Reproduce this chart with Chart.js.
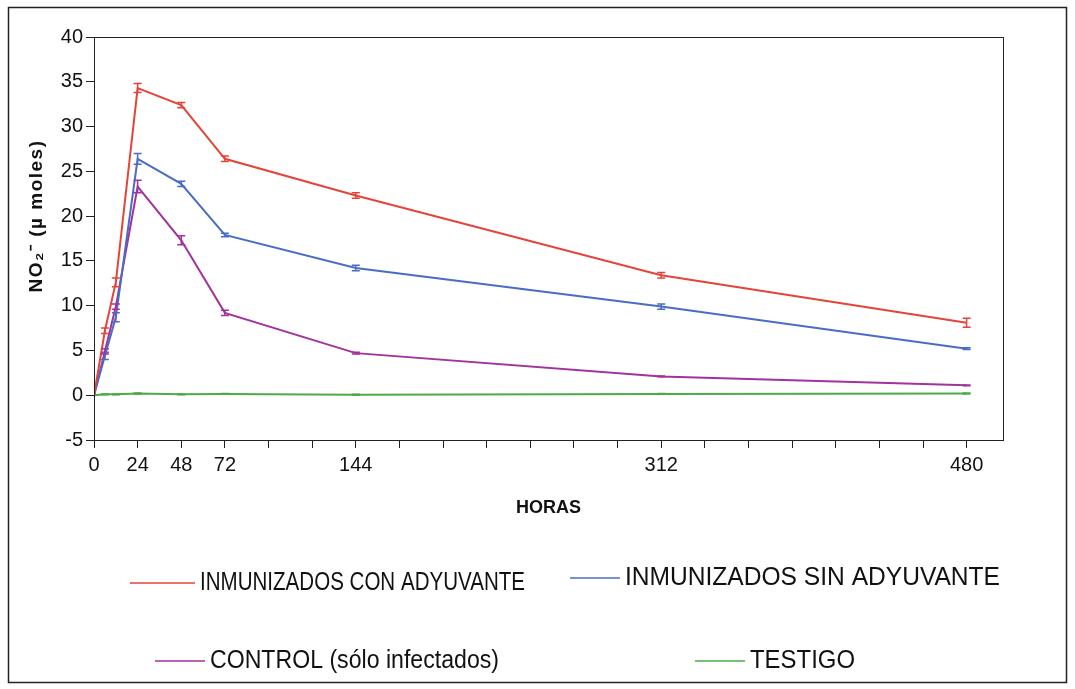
<!DOCTYPE html>
<html lang="es">
<head>
  <meta charset="UTF-8" />
  <title>NO2 - horas</title>
  <script src="https://cdn.jsdelivr.net/npm/chart.js"></script>
  <style>
    body { margin: 0; background: #fff; }
    #wrap { width: 1075px; height: 689px; }
  </style>
</head>
<body>
  <div id="wrap"><canvas id="grafico"></canvas></div>
  <script>
    // datos
    const horas = [0, 6, 12, 24, 48, 72, 144, 312, 480];
    const etiquetasX = [0, 24, 48, 72, 144, 312, 480];

    const conAdyuvante = [0, 7.2, 12.6, 34.3, 32.4, 26.4, 22.3, 13.4, 8.1];
    const conAdyuvanteErr = [0, 0.3, 0.5, 0.5, 0.3, 0.3, 0.3, 0.3, 0.5];
    const sinAdyuvante = [0, 4.4, 8.7, 26.4, 23.6, 17.9, 14.2, 9.9, 5.2];
    const sinAdyuvanteErr = [0, 0.4, 0.5, 0.6, 0.3, 0.2, 0.3, 0.3, 0.1];
    const control = [0, 4.9, 9.9, 23.3, 17.3, 9.2, 4.7, 2.1, 1.1];
    const controlErr = [0, 0.3, 0.3, 0.7, 0.5, 0.3, 0.1, 0.05, 0.05];
    const testigo = [0, 0.1, 0.1, 0.2, 0.1, 0.15, 0.05, 0.15, 0.2];
    const testigoErr = [0, 0.05, 0.05, 0.05, 0.05, 0.05, 0.05, 0.05, 0.05];

    const nombres = ['INMUNIZADOS CON ADYUVANTE', 'INMUNIZADOS SIN ADYUVANTE', 'CONTROL (sólo infectados)', 'TESTIGO'];
    const colores = ['#e5443a', '#4a6cc6', '#a2329c', '#4caa48'];

    const fuente = '"Liberation Sans", Arial, sans-serif';

    function serie(valores) {
      return horas.map((h, i) => ({ x: h, y: valores[i] }));
    }

    // barras de error
    const errores = {
      id: 'errores',
      afterDatasetsDraw(chart) {
        const ctx = chart.ctx;
        const xs = chart.scales.x, ys = chart.scales.y;
        chart.data.datasets.forEach(ds => {
          ctx.save();
          ctx.strokeStyle = ds.borderColor;
          ctx.lineWidth = 1.5;
          ds.data.forEach((p, i) => {
            const e = ds.errores[i];
            if (!e) return;
            const px = xs.getPixelForValue(p.x);
            const y1 = ys.getPixelForValue(p.y + e);
            const y2 = ys.getPixelForValue(p.y - e);
            ctx.beginPath();
            ctx.moveTo(px, y1); ctx.lineTo(px, y2);
            ctx.moveTo(px - 4, y1); ctx.lineTo(px + 4, y1);
            ctx.moveTo(px - 4, y2); ctx.lineTo(px + 4, y2);
            ctx.stroke();
          });
          ctx.restore();
        });
      }
    };

    // marcos, titulo del eje y y leyenda a mano
    const marcos = {
      id: 'marcos',
      afterDraw(chart) {
        const ctx = chart.ctx;
        const a = chart.chartArea;
        ctx.save();
        ctx.strokeStyle = '#222';
        ctx.lineWidth = 1;
        ctx.strokeRect(a.left + 0.5, a.top + 0.5, a.right - a.left, a.bottom - a.top);
        ctx.lineWidth = 1.5;
        ctx.strokeRect(8.5, 7.5, 1058, 675);

        // titulo eje y
        ctx.save();
        ctx.translate(37, 216);
        ctx.rotate(-Math.PI / 2);
        ctx.font = 'bold 19px ' + fuente;
        ctx.letterSpacing = '1.5px';
        ctx.fillStyle = '#111';
        ctx.textAlign = 'center';
        ctx.textBaseline = 'middle';
        ctx.fillText('NO₂⁻ (µ moles)', 0, 0);
        ctx.restore();

        const pos = [
          { x: 130, y: 583, largo: 65, ancho: 325 },
          { x: 570, y: 578, largo: 50, ancho: 375 },
          { x: 155, y: 661, largo: 50, ancho: 289 },
          { x: 695, y: 661, largo: 50, ancho: 105 }
        ];
        ctx.font = '26px ' + fuente;
        ctx.textBaseline = 'middle';
        ctx.fillStyle = '#111';
        chart.data.datasets.forEach((ds, i) => {
          const p = pos[i];
          ctx.strokeStyle = ds.borderColor;
          ctx.lineWidth = 1.5;
          ctx.beginPath();
          ctx.moveTo(p.x, p.y); ctx.lineTo(p.x + p.largo, p.y);
          ctx.stroke();
          const w = ctx.measureText(ds.label).width;
          ctx.save();
          ctx.translate(p.x + p.largo + 5, p.y);
          ctx.scale(p.ancho / w, 1);
          ctx.fillText(ds.label, 0, 0);
          ctx.restore();
        });
        ctx.restore();
      }
    };

    const valores = [conAdyuvante, sinAdyuvante, control, testigo];
    const errs = [conAdyuvanteErr, sinAdyuvanteErr, controlErr, testigoErr];

    new Chart(document.getElementById('grafico'), {
      type: 'line',
      data: {
        datasets: valores.map((v, i) => ({
          label: nombres[i],
          data: serie(v),
          errores: errs[i],
          borderColor: colores[i],
          backgroundColor: colores[i],
          borderWidth: 2,
          pointRadius: 0,
          tension: 0
        }))
      },
      options: {
        responsive: true,
        maintainAspectRatio: false,
        animation: false,
        layout: { padding: { left: 0, top: 37, right: 72, bottom: 164 } },
        plugins: {
          legend: { display: false },
          tooltip: { enabled: false }
        },
        scales: {
          x: {
            type: 'linear',
            min: 0,
            max: 500,
            afterFit: s => { s.height = 85; },
            afterBuildTicks: s => {
              s.ticks = s.ticks.filter(t => t.value % 24 === 0 && t.value <= 480);
            },
            ticks: {
              stepSize: 24,
              includeBounds: false,
              maxRotation: 0,
              autoSkip: false,
              color: '#111',
              font: { family: fuente, size: 20 },
              padding: 5,
              callback: v => etiquetasX.includes(v) ? String(v) : ''
            },
            grid: { display: true, drawOnChartArea: false, drawTicks: true, tickLength: 8, color: '#222' },
            border: { display: true, color: '#222' },
            title: {
              display: true,
              text: 'HORAS',
              color: '#111',
              font: { family: fuente, size: 18, weight: 'bold' },
              padding: { bottom: 6 }
            }
          },
          y: {
            min: -5,
            max: 40,
            afterFit: s => { s.width = 94; },
            ticks: {
              stepSize: 5,
              color: '#111',
              font: { family: fuente, size: 20 },
              padding: 3
            },
            grid: { display: true, drawOnChartArea: false, drawTicks: true, tickLength: 8, color: '#222' },
            border: { display: true, color: '#222' },
            title: { display: false }
          }
        }
      },
      plugins: [errores, marcos]
    });
  </script>
</body>
</html>
